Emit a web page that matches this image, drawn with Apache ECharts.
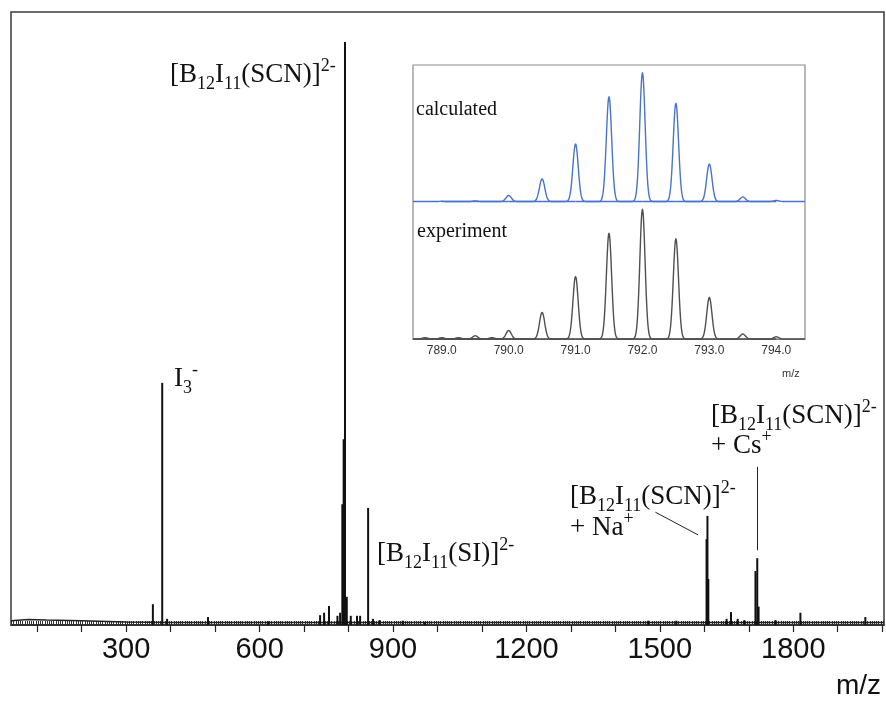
<!DOCTYPE html>
<html><head><meta charset="utf-8">
<script src="https://cdn.jsdelivr.net/npm/echarts@6/dist/echarts.min.js"></script>
<style>html,body{margin:0;padding:0;background:#fff}#c{width:886px;height:702px}</style>
</head><body><div id="c"></div>
<script>
// ---- main spectrum: m/z and relative intensity of peaks
const mainMz  = [360, 381, 392, 484, 619, 736, 745, 756, 775, 781, 786, 789, 792, 796, 805, 819, 826, 844, 855, 870, 922, 972, 1474, 1537, 1605, 1607, 1609, 1650, 1660, 1675, 1690, 1715, 1719, 1722, 1760, 1816, 1962];
const mainInt = [3.4, 39.5, 1.0, 1.3, 0.6, 1.6, 2.0, 3.1, 1.5, 2.0, 19.7, 30.3, 95.1, 4.6, 1.5, 1.5, 1.5, 19.1, 1.0, 0.8, 0.7, 0.5, 0.7, 0.7, 14.0, 17.8, 7.5, 1.0, 2.1, 1.0, 0.8, 8.8, 10.9, 3.0, 0.8, 2.0, 1.3];
// baseline noise level along the axis
const noiseMz  = [41, 80, 120, 200, 300, 400, 2004];
const noiseInt = [0.7, 0.9, 0.8, 0.7, 0.5, 0.4, 0.4];
const mainTicks  = [100, 200, 300, 400, 500, 600, 700, 800, 900, 1000, 1100, 1200, 1300, 1400, 1500, 1600, 1700, 1800, 1900, 2000];
const mainLabels = [300, 600, 900, 1200, 1500, 1800];

// ---- inset: isotope pattern
const calcMz  = [789.0, 789.5, 790.0, 790.5, 791.0, 791.5, 792.0, 792.5, 793.0, 793.5, 794.0];
const calcInt = [0.2, 0.5, 4.7, 17.6, 44.7, 81.4, 100, 76.3, 29.2, 3.6, 0.8];
const expMz   = [788.75, 789.0, 789.25, 789.5, 789.75, 790.0, 790.5, 791.0, 791.5, 792.0, 792.5, 793.0, 793.5, 794.0];
const expInt  = [1.0, 1.0, 1.0, 2.5, 1.0, 6.6, 20.5, 48.2, 81.5, 100, 77.2, 32.0, 3.8, 1.7];
const insetLabels = [789, 790, 791, 792, 793, 794];

const IN_MIN = 788.57, IN_MAX = 794.43;
const hatch = []; for (let v = 42; v < 2004; v += 5) hatch.push(v);
const insetHatch = []; for (let v = 788.6; v < 794.43; v += 0.1) insetHatch.push(+v.toFixed(2));

function bell(color, sigma, width) {
  return function (params, api) {
    const c = api.value(0), h = api.value(1);
    const pts = [];
    for (let k = -50; k <= 50; k++) {
      const x = c + k * 0.01;
      if (x < IN_MIN || x > IN_MAX) continue;
      const dx = x - c;
      pts.push(api.coord([x, h * Math.exp(-dx * dx / (2 * sigma * sigma))]));
    }
    return { type: 'polyline', shape: { points: pts, smooth: 0.3 }, style: { stroke: color, lineWidth: width, fill: null } };
  };
}

const serif = '"Liberation Serif", "Times New Roman", serif';
const rich = {
  n: { fontSize: 27, fontFamily: serif, color: '#111', lineHeight: 30 },
  b: { fontSize: 18, fontFamily: serif, color: '#111', lineHeight: 30, verticalAlign: 'bottom', padding: [0, 0, -3, 0] },
  p: { fontSize: 18, fontFamily: serif, color: '#111', lineHeight: 30, verticalAlign: 'top', padding: [-3, 0, 0, 0] }
};
function lab(x, y, text) {
  return { type: 'text', left: x, top: y, style: { text: text, rich: rich, fill: '#111' }, z: 100 };
}

const chart = echarts.init(document.getElementById('c'), null, { renderer: 'canvas' });
chart.setOption({
  animation: false,
  grid: [
    { left: 11, right: 2, top: 12, bottom: 77, show: true, borderColor: '#3a3a3a', borderWidth: 1.5 },
    { left: 413, right: 81, top: 65, bottom: 363, show: true, borderColor: '#8c8c8c', borderWidth: 1.2, backgroundColor: '#fff', z: 5 }
  ],
  xAxis: [
    { type: 'value', gridIndex: 0, min: 41, max: 2004, splitLine: { show: false },
      axisLine: { lineStyle: { color: '#222', width: 1.5 } },
      axisTick: { customValues: mainTicks, length: 7, lineStyle: { color: '#222', width: 1.2 } },
      axisLabel: { customValues: mainLabels, margin: 10, fontSize: 29, color: '#111', fontFamily: '"Liberation Sans", Arial, sans-serif',
        formatter: v => String(v) } },
    { type: 'value', gridIndex: 0, min: 41, max: 2004, position: 'bottom', splitLine: { show: false },
      axisLine: { show: false },
      axisTick: { customValues: hatch, inside: true, length: 4, lineStyle: { color: '#333', width: 1 } },
      axisLabel: { show: false } },
    { type: 'value', gridIndex: 1, min: IN_MIN, max: IN_MAX, splitLine: { show: false },
      axisLine: { lineStyle: { color: '#666', width: 1 } },
      axisTick: { customValues: insetHatch, inside: true, length: 2, lineStyle: { color: '#777', width: 1 } },
      axisLabel: { customValues: insetLabels, margin: 6, fontSize: 12, color: '#333', fontFamily: '"Liberation Sans", Arial, sans-serif',
        formatter: v => v.toFixed(1) } }
  ],
  yAxis: [
    { type: 'value', gridIndex: 0, min: 0, max: 100, show: false },
    { type: 'value', gridIndex: 1, min: 0, max: 211, show: false },
    { type: 'value', gridIndex: 1, min: -106.7, max: 106, show: false }
  ],
  series: [
    { type: 'line', xAxisIndex: 0, yAxisIndex: 0, data: noiseMz.map((m, i) => [m, noiseInt[i]]),
      symbol: 'none', lineStyle: { color: '#222', width: 1.5 }, z: 2 },
    { type: 'bar', xAxisIndex: 0, yAxisIndex: 0, barWidth: 2, data: mainMz.map((m, i) => [m, mainInt[i]]),
      itemStyle: { color: '#111' }, z: 3,
      markLine: { silent: true, symbol: 'none', label: { show: false }, lineStyle: { color: '#222', width: 1, type: 'solid' },
        data: [
          [{ coord: [1490, 18.4] }, { coord: [1586, 14.7] }],
          [{ coord: [1719, 25.8] }, { coord: [1719, 12.2] }]
        ] } },
    { type: 'custom', xAxisIndex: 2, yAxisIndex: 2, data: calcMz.map((m, i) => [m, calcInt[i]]),
      renderItem: bell('#4a74c9', 0.04, 1.4), z: 10 },
    { type: 'custom', xAxisIndex: 2, yAxisIndex: 1, data: expMz.map((m, i) => [m, expInt[i]]),
      renderItem: bell('#505050', 0.039, 1.4), z: 10 }
  ],
  graphic: [
    { type: 'text', right: 5, top: 672, style: { text: 'm/z', fontSize: 28, fontFamily: '"Liberation Sans", Arial, sans-serif', fill: '#111' }, z: 100 },
    { type: 'text', left: 782, top: 368, style: { text: 'm/z', fontSize: 11, fontFamily: '"Liberation Sans", Arial, sans-serif', fill: '#333' }, z: 100 },
    { type: 'text', left: 416, top: 100, style: { text: 'calculated', fontSize: 20, fontFamily: serif, fill: '#111' }, z: 100 },
    { type: 'text', left: 417, top: 222, style: { text: 'experiment', fontSize: 20, fontFamily: serif, fill: '#111' }, z: 100 },
    lab(170, 57, '{n|[B}{b|12}{n|I}{b|11}{n|(SCN)]}{p|2-}'),
    lab(174, 361, '{n|I}{b|3}{p|-}'),
    lab(377, 536, '{n|[B}{b|12}{n|I}{b|11}{n|(SI)]}{p|2-}'),
    lab(570, 479, '{n|[B}{b|12}{n|I}{b|11}{n|(SCN)]}{p|2-}'),
    lab(570, 510, '{n|+ Na}{p|+}'),
    lab(711, 398, '{n|[B}{b|12}{n|I}{b|11}{n|(SCN)]}{p|2-}'),
    lab(711, 428, '{n|+ Cs}{p|+}')
  ]
});
</script></body></html>
